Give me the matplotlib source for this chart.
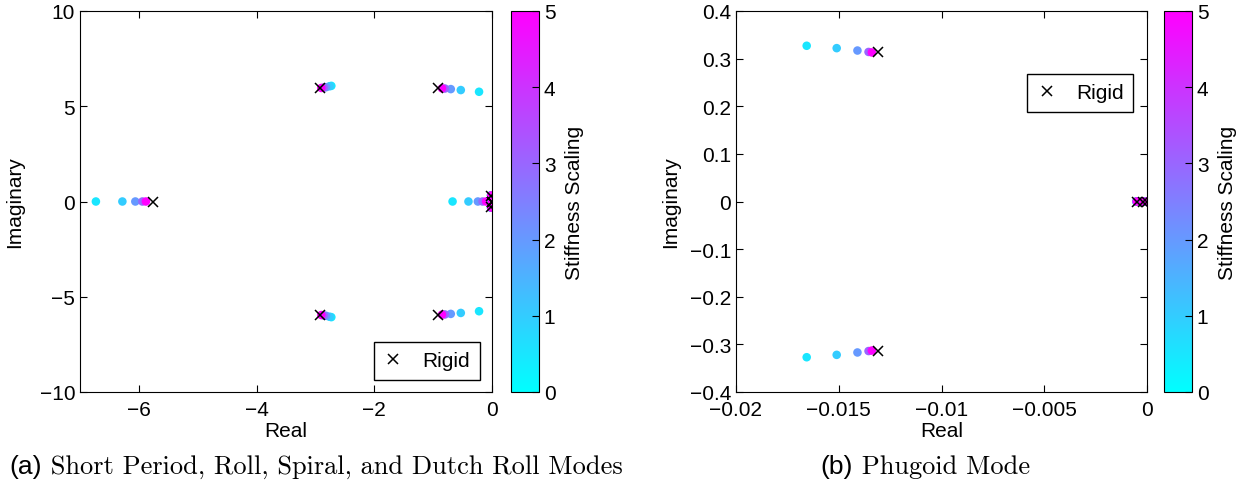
import matplotlib
matplotlib.use("Agg")
import matplotlib.pyplot as plt
from matplotlib import cm, colors

plt.rcParams['font.family'] = ['Liberation Sans', 'DejaVu Sans']
plt.rcParams['font.size'] = 15
plt.rcParams['xtick.direction'] = 'in'
plt.rcParams['ytick.direction'] = 'in'
plt.rcParams['xtick.top'] = True
plt.rcParams['ytick.right'] = True
plt.rcParams['xtick.major.size'] = 5
plt.rcParams['ytick.major.size'] = 5
plt.rcParams['xtick.major.pad'] = 6

# stiffness scaling of each flexible case
stiffness = [0.5, 1, 2, 3, 5]

# short period pair
sp_re = [-2.73, -2.76, -2.82, -2.86, -2.90]
sp_im = [6.07, 6.05, 6.00, 5.98, 5.96]
# dutch roll pair
dr_re = [-0.22, -0.53, -0.70, -0.80, -0.85]
dr_im = [5.76, 5.85, 5.90, 5.93, 5.94]
# roll mode
roll_re = [-6.73, -6.28, -6.06, -5.94, -5.88]
# real root near origin
aux_re = [-0.67, -0.40, -0.24, -0.16, -0.10]
# phugoid pair
ph_re = [-0.01656, -0.0151, -0.01409, -0.01355, -0.01339]
ph_im = [0.327, 0.322, 0.317, 0.314, 0.313]
# spiral and zero roots
spiral_re = [-0.00052, -0.00051, -0.0005, -0.0005, -0.0005]
zero1_re = [-0.0002, -0.0002, -0.0002, -0.0002, -0.0002]
zero2_re = [0.0, 0.0, 0.0, 0.0, 0.0]

# rigid aircraft eigenvalues
rigid_re = [-5.76, -2.92, -2.92, -0.92, -0.92, -0.0131, -0.0131, -0.0005, -0.0002, 0.0]
rigid_im = [0.0, 5.96, -5.96, 5.96, -5.96, 0.314, -0.314, 0.0, 0.0, 0.0]

W, H = 1249, 489
fig = plt.figure(figsize=(W / 100, H / 100), dpi=100)

ax1 = fig.add_axes([80 / W, 1 - 393 / H, 412 / W, 381 / H])
cax1 = fig.add_axes([511 / W, 1 - 393 / H, 28 / W, 381 / H])
ax2 = fig.add_axes([736 / W, 1 - 393 / H, 411 / W, 381 / H])
cax2 = fig.add_axes([1164 / W, 1 - 393 / H, 28 / W, 381 / H])

norm = colors.Normalize(vmin=0, vmax=5)
cmap = plt.get_cmap('cool')


def plot_modes(ax):
    zeros = [0.0] * len(stiffness)
    pairs = [
        (sp_re, sp_im), (sp_re, [-v for v in sp_im]),
        (dr_re, dr_im), (dr_re, [-v for v in dr_im]),
        (roll_re, zeros), (aux_re, zeros),
        (ph_re, ph_im), (ph_re, [-v for v in ph_im]),
        (spiral_re, zeros), (zero1_re, zeros), (zero2_re, zeros),
    ]
    for re, im in pairs:
        ax.scatter(re, im, c=stiffness, cmap=cmap, norm=norm, s=38,
                   edgecolors='none', zorder=2)
    ax.plot(rigid_re, rigid_im, 'x', color='black', markersize=7,
            markeredgewidth=1.1, label='Rigid', zorder=3)


leg_kw = dict(fancybox=False, edgecolor='black', framealpha=1,
              handlelength=1.0, handletextpad=0.9, borderpad=0.45,
              borderaxespad=0.6)

plot_modes(ax1)
ax1.set_xlim(-7, 0)
ax1.set_ylim(-10, 10)
ax1.set_xticks([-6, -4, -2, 0])
ax1.set_yticks([-10, -5, 0, 5, 10])
ax1.set_xlabel('Real', labelpad=1)
ax1.set_ylabel('Imaginary', labelpad=11)
ax1.legend(loc='lower right', **leg_kw)

plot_modes(ax2)
ax2.set_xlim(-0.02, 0)
ax2.set_ylim(-0.4, 0.4)
ax2.set_xticks([-0.02, -0.015, -0.01, -0.005, 0])
ax2.set_xticklabels(['\u22120.02', '\u22120.015', '\u22120.01', '\u22120.005', '0'])
ax2.set_yticks([-0.4, -0.3, -0.2, -0.1, 0, 0.1, 0.2, 0.3, 0.4])
ax2.set_yticklabels(['\u22120.4', '\u22120.3', '\u22120.2', '\u22120.1', '0',
                     '0.1', '0.2', '0.3', '0.4'])
ax2.set_xlabel('Real', labelpad=1)
ax2.set_ylabel('Imaginary', labelpad=7)
leg_kw2 = dict(leg_kw)
leg_kw2['borderaxespad'] = 0
ax2.legend(loc='upper right', bbox_to_anchor=(1 - 14 / 411, 1 - 63 / 381), **leg_kw2)

for cax in (cax1, cax2):
    sm = cm.ScalarMappable(norm=norm, cmap=cmap)
    cb = fig.colorbar(sm, cax=cax, ticks=[0, 1, 2, 3, 4, 5])
    cb.set_label('Stiffness Scaling', labelpad=7)
    cax.tick_params(direction='in', length=5)

# captions: panel letter in sans, the rest in a Computer Modern face
fig.canvas.draw()
renderer = fig.canvas.get_renderer()
captions = [(316, '(a)', ' Short Period, Roll, Spiral, and Dutch Roll Modes'),
            (925, '(b)', ' Phugoid Mode')]
for xc, tag, body in captions:
    t1 = fig.text(0, 1 - 474 / H, tag, fontsize=19, va='baseline')
    t2 = fig.text(0, 1 - 474 / H, body, family='cmr10', fontsize=19, va='baseline')
    w1 = t1.get_window_extent(renderer).width
    w2 = t2.get_window_extent(renderer).width
    x0 = xc - (w1 + w2) / 2
    t1.set_x(x0 / W)
    t2.set_x((x0 + w1) / W)

fig.savefig('out.png', dpi=100)
